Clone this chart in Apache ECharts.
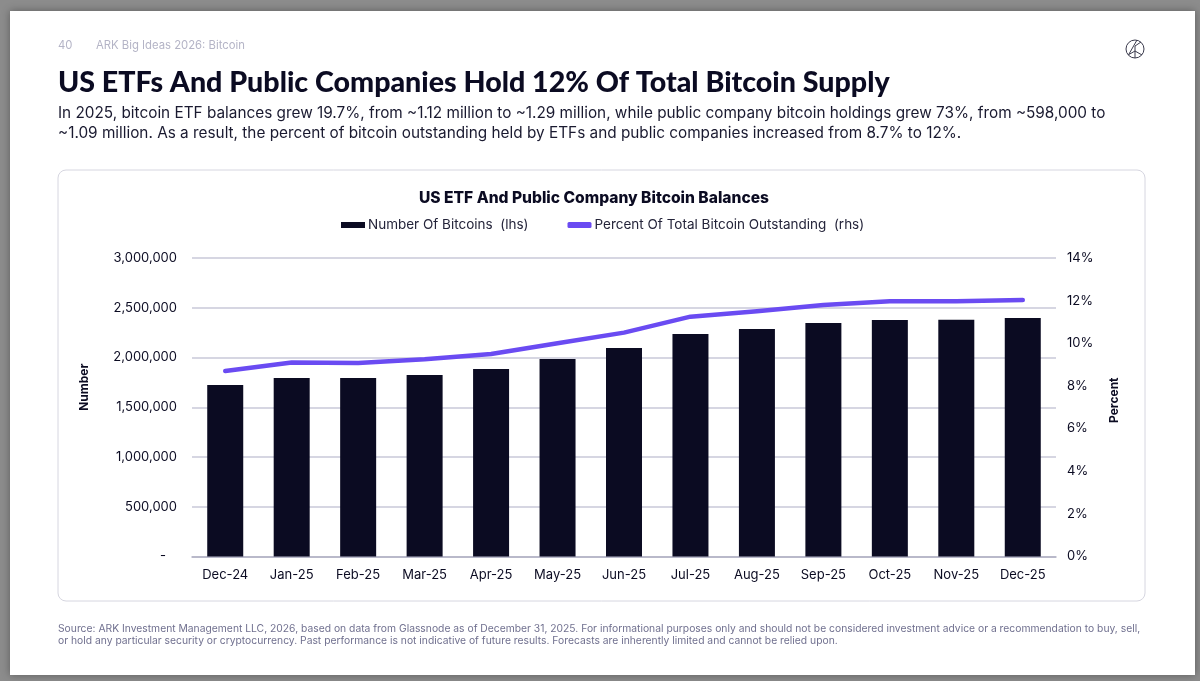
<!DOCTYPE html>
<html>
<head>
<meta charset="utf-8">
<style>html,body{margin:0;padding:0;background:#8c8c8c}#main{width:1200px;height:681px}</style>
<script src="https://cdn.jsdelivr.net/npm/echarts@6/dist/echarts.min.js"></script>
</head>
<body>
<div id="main"></div>
<script>
var months = ['Dec-24','Jan-25','Feb-25','Mar-25','Apr-25','May-25','Jun-25','Jul-25','Aug-25','Sep-25','Oct-25','Nov-25','Dec-25'];
var bitcoins = [1724000,1794000,1794000,1824000,1885000,1985000,2095000,2236000,2286000,2347000,2377000,2380000,2397000];
var percent = [8.7,9.1,9.08,9.25,9.5,10.0,10.5,11.25,11.5,11.8,11.97,11.97,12.03];

var ink = '#0b0b22', purple = '#6a4bf2', rule = '#c9c9d9';
var sans = 'Inter', head = 'Lato';

function txt(x, y, s, size, color, weight, family, align) {
    return {type: 'text', x: x, y: y, z: 5, style: {
        text: s, fontSize: size, fill: color, fontWeight: weight || 400,
        fontFamily: family || sans, textAlign: align || 'left', textVerticalAlign: 'middle'
    }};
}
function stroke(shape) {
    return {type: 'line', z: 5, shape: shape, style: {stroke: '#3a3a4c', lineWidth: 1}};
}

var ec = echarts.init(document.getElementById('main'), null, {renderer: 'canvas'});
ec.setOption({
    animation: false,
    backgroundColor: '#8c8c8c',
    textStyle: {fontFamily: sans},
    graphic: [
        {type: 'rect', z: -2, shape: {x: 10, y: 11, width: 1185, height: 664},
            style: {fill: '#fff', shadowBlur: 8, shadowColor: 'rgba(0,0,0,0.35)'}},
        {type: 'rect', z: -1, shape: {x: 58, y: 170, width: 1087, height: 431, r: 8},
            style: {fill: '#fff', stroke: '#d6d6e0', lineWidth: 1}},
        txt(58, 45.5, '40', 11.3, '#b4b4c6'),
        txt(96, 45.5, 'ARK Big Ideas 2026: Bitcoin', 11.3, '#b4b4c6'),
        txt(58, 83, 'US ETFs And Public Companies Hold 12% Of Total Bitcoin Supply', 28.6, ink, 900, head),
        txt(58, 113, 'In 2025, bitcoin ETF balances grew 19.7%, from ~1.12 million to ~1.29 million, while public company bitcoin holdings grew 73%, from ~598,000 to', 15.33, '#1a1a30'),
        txt(58, 133, '~1.09 million. As a result, the percent of bitcoin outstanding held by ETFs and public companies increased from 8.7% to 12%.', 15.33, '#1a1a30'),
        txt(58, 629, 'Source: ARK Investment Management LLC, 2026, based on data from Glassnode as of December 31, 2025. For informational purposes only and should not be considered investment advice or a recommendation to buy, sell,', 10.32, '#70708f'),
        txt(58, 641, 'or hold any particular security or cryptocurrency. Past performance is not indicative of future results. Forecasts are inherently limited and cannot be relied upon.', 10.32, '#70708f'),
        // logo
        {type: 'circle', z: 5, shape: {cx: 1135, cy: 49, r: 9}, style: {fill: 'none', stroke: '#3a3a4c', lineWidth: 1}},
        stroke({x1: 1135, y1: 58, x2: 1135, y2: 46}),
        stroke({x1: 1135, y1: 51, x2: 1128, y2: 55}),
        stroke({x1: 1135, y1: 51, x2: 1142, y2: 55}),
        stroke({x1: 1129, y1: 54, x2: 1137, y2: 40}),
        stroke({x1: 1135, y1: 46, x2: 1141, y2: 42})
    ],
    title: {
        text: 'US ETF And Public Company Bitcoin Balances',
        left: 414, top: 185,
        textStyle: {fontFamily: sans, fontSize: 15.6, fontWeight: 800, color: ink}
    },
    legend: {
        top: 213, left: 336, itemGap: 39, itemWidth: 24, itemHeight: 6, itemStyle: {borderWidth: 0},
        textStyle: {fontFamily: sans, fontSize: 13.5, color: '#24243a', padding: [0, 0, 0, -2]},
        data: [
            {name: 'Number Of Bitcoins  (lhs)', icon: 'rect'},
            {name: 'Percent Of Total Bitcoin Outstanding  (rhs)', icon: 'roundRect'}
        ]
    },
    grid: {left: 192, right: 144, top: 258, height: 298.5},
    xAxis: {
        type: 'category', data: months,
        axisTick: {show: false},
        axisLine: {lineStyle: {color: '#b0b0c2', width: 1.5}},
        axisLabel: {color: ink, fontSize: 13, margin: 12, interval: 0}
    },
    yAxis: [
        {
            type: 'value', min: 0, max: 3000000, interval: 500000,
            name: 'Number', nameLocation: 'middle', nameGap: 102, nameRotate: 90,
            nameTextStyle: {color: ink, fontSize: 12, fontWeight: 700, padding: [0, 0, 0, 40]},
            axisLine: {show: false}, axisTick: {show: false},
            splitLine: {lineStyle: {color: rule, width: 1.5}},
            axisLabel: {color: ink, fontSize: 13, margin: 15, padding: [2, 0, 0, 0],
                formatter: function (v) { return v === 0 ? '-   ' : v.toLocaleString('en-US'); }}
        },
        {
            type: 'value', min: 0, max: 14, interval: 2,
            name: 'Percent', nameLocation: 'middle', nameGap: 52, nameRotate: 90,
            nameTextStyle: {color: ink, fontSize: 12, fontWeight: 700, padding: [0, 0, 0, 14]},
            axisLine: {show: false}, axisTick: {show: false}, splitLine: {show: false},
            axisLabel: {color: ink, fontSize: 13, margin: 11, padding: [2, 0, 0, 0], formatter: '{value}%'}
        }
    ],
    series: [
        {
            name: 'Number Of Bitcoins  (lhs)', type: 'bar', data: bitcoins,
            barWidth: 36, itemStyle: {color: ink}
        },
        {
            name: 'Percent Of Total Bitcoin Outstanding  (rhs)', type: 'line', yAxisIndex: 1, data: percent,
            showSymbol: false, symbol: 'none',
            itemStyle: {color: purple},
            lineStyle: {color: purple, width: 4.5, cap: 'round', join: 'round'}
        }
    ]
});
</script>
</body>
</html>
